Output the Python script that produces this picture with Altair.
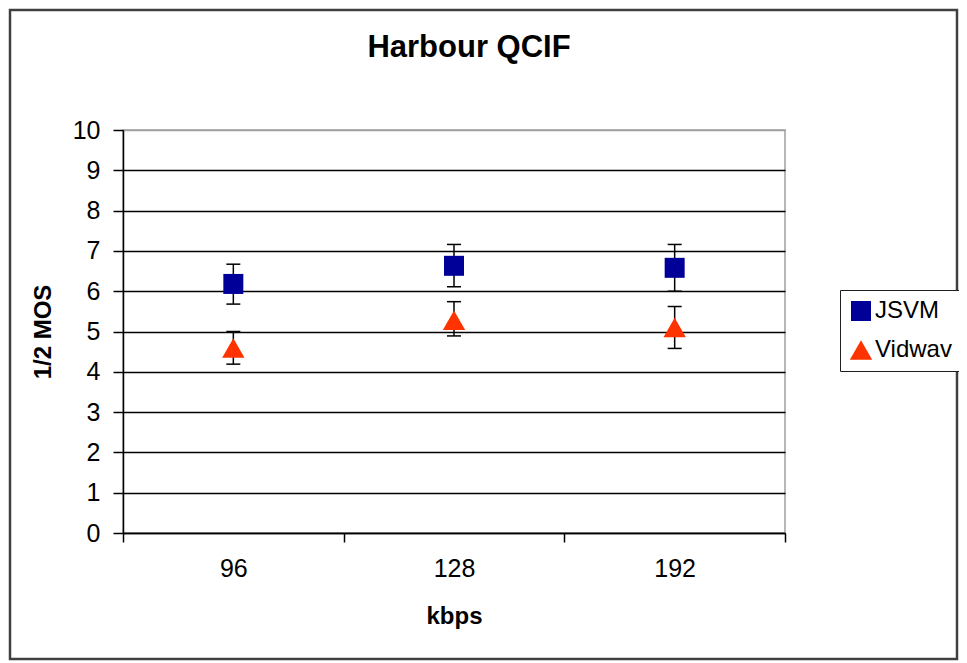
import altair as alt
import pandas as pd

title_text = "Harbour QCIF"
categories = ["96", "128", "192"]
series = ["JSVM", "Vidwav"]
jsvm_mean = [6.18, 6.63, 6.58]
jsvm_low = [5.68, 6.11, 6.00]
jsvm_high = [6.67, 7.16, 7.16]
vid_mean = [4.59, 5.28, 5.10]
vid_low = [4.19, 4.89, 4.58]
vid_high = [5.00, 5.74, 5.62]
y_ticks = [0, 1, 2, 3, 4, 5, 6, 7, 8, 9, 10]

rows = []
for i, c in enumerate(categories):
    rows.append({"kbps": c, "series": "JSVM", "mos": jsvm_mean[i], "low": jsvm_low[i], "high": jsvm_high[i]})
    rows.append({"kbps": c, "series": "Vidwav", "mos": vid_mean[i], "low": vid_low[i], "high": vid_high[i]})
df = pd.DataFrame(rows)

FONT = "Liberation Sans"

x_enc = alt.X(
    "kbps:N",
    sort=categories,
    scale=alt.Scale(paddingInner=0, paddingOuter=0),
    axis=alt.Axis(
        title="kbps", labelAngle=0, tickBand="extent", tickSize=9, tickWidth=1.5,
        tickColor="black", domainColor="black", domainWidth=1.5,
        labelFont=FONT, labelFontSize=25, labelColor="black", labelPadding=14,
        titleFont=FONT, titleFontSize=24, titleFontWeight="bold", titleColor="black",
        titlePadding=23, grid=False,
    ),
)

y_scale = alt.Scale(domain=[0, 10], nice=False, zero=True)
y_axis = alt.Axis(
    title="1/2 MOS", values=y_ticks, tickSize=10, tickWidth=1.5, tickColor="black",
    domainColor="black", domainWidth=1.5,
    labelFont=FONT, labelFontSize=25, labelColor="black", labelPadding=13,
    titleFont=FONT, titleFontSize=24, titleFontWeight="bold", titleColor="black",
    titlePadding=17, grid=True, gridWidth=1.5,
    gridColor={"condition": {"test": "datum.value === 10", "value": "#a0a0a0"}, "value": "black"},
)

base = alt.Chart(df)

err_rule = base.mark_rule(color="black", strokeWidth=1.5).encode(
    x=x_enc, y=alt.Y("low:Q", scale=y_scale, axis=y_axis), y2="high:Q"
)
cap_low = base.mark_tick(color="black", size=14, thickness=1.5, opacity=1).encode(
    x=x_enc, y=alt.Y("low:Q", scale=y_scale)
)
cap_high = base.mark_tick(color="black", size=14, thickness=1.5, opacity=1).encode(
    x=x_enc, y=alt.Y("high:Q", scale=y_scale)
)

points = base.mark_point(filled=True, opacity=1, strokeWidth=0).encode(
    x=x_enc,
    y=alt.Y("mos:Q", scale=y_scale),
    color=alt.Color(
        "series:N",
        scale=alt.Scale(domain=series, range=["#000099", "#ff3300"]),
        title=None,
        legend=alt.Legend(
            orient="none", legendX=717, legendY=160, strokeColor="#202020",
            fillColor="white", padding=9, rowPadding=15, labelOffset=2,
            labelFont=FONT, labelFontSize=24, labelColor="black",
            symbolSize=290, symbolOpacity=1, symbolStrokeWidth=0,
        ),
    ),
    shape=alt.Shape(
        "series:N",
        scale=alt.Scale(domain=series, range=["square", "triangle-up"]),
        title=None,
    ),
    size=alt.Size(
        "series:N", scale=alt.Scale(domain=series, range=[400, 500]), legend=None
    ),
)

title_mark = alt.Chart(alt.Data(values=[{"t": title_text}])).mark_text(
    font=FONT, fontSize=31, fontWeight="bold", color="black",
    align="center", baseline="alphabetic",
).encode(text="t:N", x=alt.value(346), y=alt.value(-73))

border = alt.Chart(alt.Data(values=[{"b": 1}])).mark_rect(
    fillOpacity=0, stroke="#404040", strokeWidth=2.5
).encode(
    x=alt.value(-113), x2=alt.value(834), y=alt.value(-120), y2=alt.value(529)
)

chart = alt.layer(border, title_mark, err_rule, cap_low, cap_high, points).properties(
    width=662,
    height=403,
    autosize=alt.AutoSizeParams(type="none"),
    padding={"left": 115, "top": 122, "right": 174, "bottom": 128},
    background="white",
).configure_view(stroke="#a0a0a0", strokeWidth=1.5)

chart.save("out.html", embed_options={"renderer": "svg", "actions": False})
